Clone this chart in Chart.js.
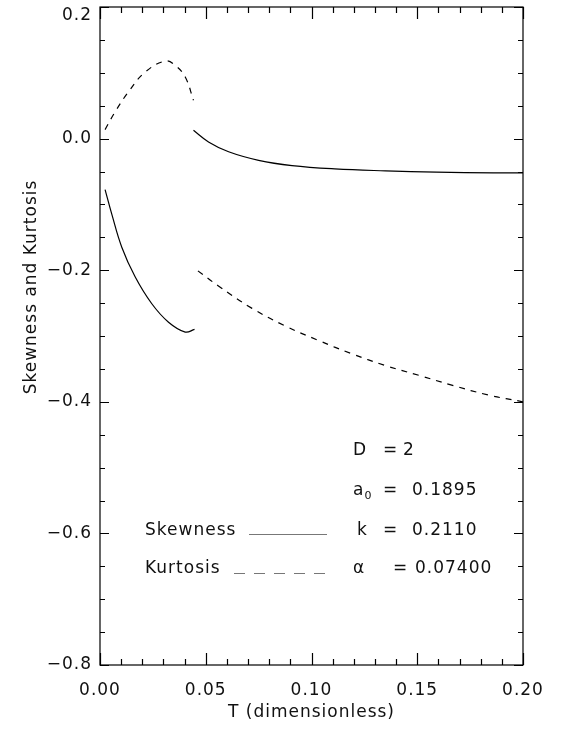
<!DOCTYPE html>
<html>
<head>
<meta charset="utf-8">
<title>Skewness and Kurtosis</title>
<script src="https://cdn.jsdelivr.net/npm/chart.js@4"></script>
<style>
  html, body { margin: 0; padding: 0; background: #fff; }
  canvas { display: block; }
</style>
</head>
<body>
<canvas id="chart" width="564" height="729"></canvas>
<script>
// Skewness: branch below T ~ 0.045 and branch above it
const skewLowT = [0.0024, 0.0055, 0.0103, 0.0166, 0.0245, 0.0324, 0.0403, 0.0447];
const skewLow  = [-0.0775, -0.114, -0.165, -0.210, -0.251, -0.279, -0.294, -0.290];
const skewHighT = [0.0442, 0.0513, 0.0608, 0.075, 0.0908, 0.111, 0.135, 0.159, 0.186, 0.200];
const skewHigh  = [0.0126, -0.005, -0.020, -0.033, -0.041, -0.046, -0.049, -0.051, -0.052, -0.052];

// Kurtosis: same split
const kurtLowT = [0.0024, 0.0071, 0.0134, 0.0213, 0.0310, 0.0355, 0.0403, 0.0442];
const kurtLow  = [0.0137, 0.0404, 0.0708, 0.101, 0.118, 0.1114, 0.0936, 0.0582];
const kurtHighT = [0.0463, 0.056, 0.0719, 0.0877, 0.1035, 0.119, 0.135, 0.151, 0.1667, 0.184, 0.200];
const kurtHigh  = [-0.201, -0.224, -0.258, -0.285, -0.307, -0.327, -0.345, -0.360, -0.375, -0.390, -0.400];

// Axis ranges and tick steps
const xRange = [0, 0.2];
const yRange = [-0.8, 0.2];
const xLabelStep = 0.05;
const yLabelStep = 0.2;
const xMinorStep = 0.01;
const yMinorStep = 0.05;

const yTitle = 'Skewness and Kurtosis';
const xTitle = 'T (dimensionless)';

// Model parameters printed inside the plot
const paramRows = [
  ['D', '', '2'],
  ['a', '0', '0.1895'],
  ['k', '', '0.2110'],
  ['\u03b1', '', '0.07400']
];

const FONT = 'DejaVu Sans';
const INK = '#111';

function toPoints(xs, ys) {
  return xs.map((x, i) => ({ x: x, y: ys[i] }));
}

function lineSet(label, xs, ys, dashed) {
  return {
    label: label,
    data: toPoints(xs, ys),
    borderColor: '#000',
    borderWidth: 1.2,
    borderDash: dashed ? [6, 6] : [],
    pointRadius: 0,
    fill: false,
    tension: 0.4
  };
}

// IDL-like spacing between glyphs
const spacingPlugin = {
  id: 'spacing',
  beforeUpdate(chart) { chart.ctx.letterSpacing = '1px'; },
  beforeDraw(chart) { chart.ctx.letterSpacing = '1px'; }
};

// Closed frame with inward ticks on all four sides
const framePlugin = {
  id: 'frame',
  afterDraw(chart) {
    const ctx = chart.ctx;
    const area = chart.chartArea;
    const xs = chart.scales.x;
    const ys = chart.scales.y;
    ctx.save();
    ctx.strokeStyle = '#000';
    ctx.lineWidth = 1.2;
    ctx.strokeRect(area.left, area.top, area.right - area.left, area.bottom - area.top);

    ctx.beginPath();
    const nx = Math.round((xRange[1] - xRange[0]) / xMinorStep);
    const perX = Math.round(xLabelStep / xMinorStep);
    for (let i = 0; i <= nx; i++) {
      const px = Math.round(xs.getPixelForValue(xRange[0] + i * xMinorStep)) + 0.5;
      const len = i % perX === 0 ? 12 : 6;
      ctx.moveTo(px, area.bottom);
      ctx.lineTo(px, area.bottom - len);
      ctx.moveTo(px, area.top);
      ctx.lineTo(px, area.top + len);
    }
    const ny = Math.round((yRange[1] - yRange[0]) / yMinorStep);
    const perY = Math.round(yLabelStep / yMinorStep);
    for (let j = 0; j <= ny; j++) {
      const py = Math.round(ys.getPixelForValue(yRange[0] + j * yMinorStep)) + 0.5;
      const len = j % perY === 0 ? 9 : 5;
      ctx.moveTo(area.left, py);
      ctx.lineTo(area.left + len, py);
      ctx.moveTo(area.right, py);
      ctx.lineTo(area.right - len, py);
    }
    ctx.stroke();
    ctx.restore();
  }
};

// Y title, legend samples and parameter list
const notesPlugin = {
  id: 'notes',
  afterDraw(chart) {
    const ctx = chart.ctx;
    const big = '17px "' + FONT + '"';
    const small = '11px "' + FONT + '"';
    ctx.save();
    ctx.letterSpacing = '1px';
    ctx.fillStyle = INK;

    // rotated title, sitting a little above the middle of the axis
    ctx.save();
    ctx.font = big;
    ctx.translate(32, 287);
    ctx.rotate(-Math.PI / 2);
    ctx.textAlign = 'center';
    ctx.textBaseline = 'middle';
    ctx.fillText(yTitle, 0, 0);
    ctx.restore();

    ctx.textBaseline = 'alphabetic';
    ctx.textAlign = 'left';
    const baselines = [455, 495, 535, 573];

    paramRows.forEach((row, i) => {
      const y = baselines[i];
      ctx.font = big;
      const nameX = row[0] === 'k' ? 357 : 353;
      ctx.fillText(row[0], nameX, y);
      if (row[1]) {
        const w = ctx.measureText(row[0]).width;
        ctx.font = small;
        ctx.fillText(row[1], nameX + w, y + 4);
        ctx.font = big;
      }
      const eqX = row[0] === '\u03b1' ? 393 : 383;
      ctx.fillText('=', eqX, y);
      ctx.fillText(row[2], row[0] === 'D' ? 403 : (row[0] === '\u03b1' ? 415 : 412), y);
    });

    ctx.font = big;
    ctx.fillText('Skewness', 145, 535);
    ctx.fillText('Kurtosis', 145, 573);

    ctx.strokeStyle = '#777';
    ctx.lineWidth = 1;
    ctx.beginPath();
    ctx.moveTo(249, 534.5);
    ctx.lineTo(327, 534.5);
    ctx.stroke();
    ctx.setLineDash([11, 9]);
    ctx.beginPath();
    ctx.moveTo(234, 573.5);
    ctx.lineTo(327, 573.5);
    ctx.stroke();
    ctx.restore();
  }
};

function yLabel(v) {
  let s = Number(v).toFixed(1);
  if (s === '-0.0') s = '0.0';
  s = s.replace('-', '\u2212');
  // top label sits just under the frame corner instead of straddling it
  return Math.abs(v - yRange[1]) < 1e-9 ? ['', s] : s;
}

new Chart(document.getElementById('chart'), {
  type: 'line',
  data: {
    datasets: [
      lineSet('Skewness', skewLowT, skewLow, false),
      lineSet('Skewness', skewHighT, skewHigh, false),
      lineSet('Kurtosis', kurtLowT, kurtLow, true),
      lineSet('Kurtosis', kurtHighT, kurtHigh, true)
    ]
  },
  options: {
    responsive: false,
    animation: false,
    events: [],
    layout: { padding: { top: 7, right: 41, left: 0, bottom: 0 } },
    plugins: {
      legend: { display: false },
      tooltip: { enabled: false }
    },
    scales: {
      x: {
        type: 'linear',
        position: 'bottom',
        min: xRange[0],
        max: xRange[1],
        afterFit(scale) { scale.height = 64; },
        grid: { display: false, drawTicks: false },
        border: { display: false },
        ticks: {
          stepSize: xLabelStep,
          autoSkip: false,
          maxRotation: 0,
          padding: 15,
          color: INK,
          font: { family: FONT, size: 17 },
          callback: v => Number(v).toFixed(2)
        },
        title: {
          display: true,
          text: xTitle,
          color: INK,
          font: { family: FONT, size: 17 },
          padding: { top: 0, bottom: 6 }
        }
      },
      y: {
        type: 'linear',
        position: 'left',
        min: yRange[0],
        max: yRange[1],
        afterFit(scale) {
          scale.width = 100;
          // let the frame reach the top edge set by the layout padding
          scale.paddingTop = 0;
          scale.paddingBottom = 0;
        },
        grid: { display: false, drawTicks: false },
        border: { display: false },
        ticks: {
          stepSize: yLabelStep,
          autoSkip: false,
          padding: 8,
          color: INK,
          font: { family: FONT, size: 17, lineHeight: 1.0 },
          callback: yLabel
        }
      }
    }
  },
  plugins: [spacingPlugin, framePlugin, notesPlugin]
});
</script>
</body>
</html>
